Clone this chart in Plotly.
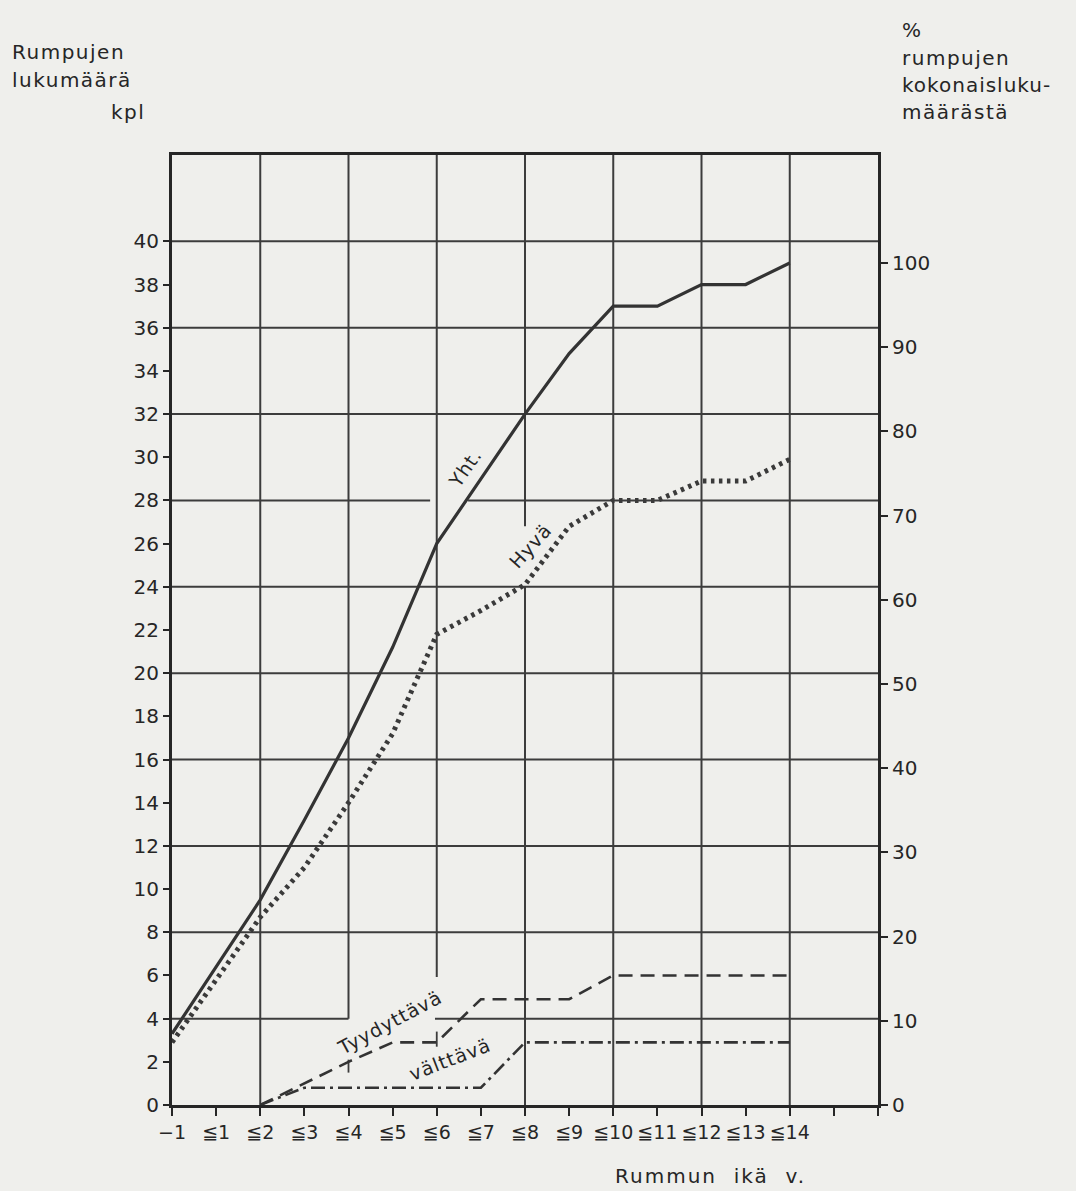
import plotly.graph_objects as go

# ---- data ----
x_pos = list(range(15))
x_labels = ["−1", "≦1", "≦2", "≦3", "≦4", "≦5", "≦6", "≦7", "≦8", "≦9",
            "≦10", "≦11", "≦12", "≦13", "≦14"]
yht = [3.3, 6.4, 9.5, 13.2, 17, 21.2, 26, 29, 32, 34.8, 37, 37, 38, 38, 39]
hyva = [2.9, 5.8, 8.7, 11, 14, 17.2, 21.8, 22.9, 24.1, 26.8, 28, 28, 28.9, 28.9, 29.9]
tyyd_x = list(range(2, 15))
tyyd = [0, 1, 2, 2.9, 2.9, 4.9, 4.9, 4.9, 6, 6, 6, 6, 6]
valt_x = list(range(2, 15))
valt = [0, 0.8, 0.8, 0.8, 0.8, 0.8, 2.9, 2.9, 2.9, 2.9, 2.9, 2.9, 2.9]
total_count = 39  # = 100 %
left_ticks = list(range(0, 41, 2))
right_ticks = list(range(0, 101, 10))

# ---- layout geometry ----
W, H = 1076, 1191
L, R, T, B = 172, 878, 155, 1105
XMAX, YMAX = 16, 44
INK = "#262626"
FONT = "DejaVu Sans"


def px(xp):
    return (xp - L) / (R - L)


def py(yp):
    return (B - yp) / (B - T)


fig = go.Figure()
fig.add_trace(go.Scatter(x=x_pos, y=yht, mode="lines",
                         line=dict(color="#333333", width=3.2), name="Yht."))
fig.add_trace(go.Scatter(x=x_pos, y=hyva, mode="lines",
                         line=dict(color="#3a3a3a", width=5, dash="3.5px,4.5px"), name="Hyvä"))
fig.add_trace(go.Scatter(x=tyyd_x, y=tyyd, mode="lines",
                         line=dict(color="#333333", width=2.6, dash="14px,8px"), name="Tyydyttävä"))
fig.add_trace(go.Scatter(x=valt_x, y=valt, mode="lines",
                         line=dict(color="#333333", width=2.6, dash="14px,5px,3px,5px"), name="välttävä"))
# invisible trace for right axis
fig.add_trace(go.Scatter(x=[0], y=[0], yaxis="y2", mode="markers",
                         marker=dict(opacity=0), showlegend=False, hoverinfo="skip"))

# ---- grid drawn as segments (with gaps like the original) ----
grid_col = "#3c3c3c"
shapes = []


def seg(x0, y0, x1, y1, w=2):
    shapes.append(dict(type="line", xref="x", yref="y", x0=x0, y0=y0, x1=x1, y1=y1,
                       line=dict(color=grid_col, width=w), layer="below"))


for gx in range(2, 16, 2):
    if gx == 4:
        seg(gx, 4, gx, YMAX)
    elif gx == 6:
        seg(gx, 5.93, gx, YMAX)
    elif gx == 8:
        seg(gx, 0, gx, 24)
        seg(gx, 26.8, gx, YMAX)
    else:
        seg(gx, 0, gx, YMAX)
for gy in range(4, 44, 4):
    if gy == 28:
        seg(0, gy, 5.85, gy)
        seg(6.71, gy, XMAX, gy)
    elif gy == 4:
        seg(0, gy, 4, gy)
        seg(5.96, gy, XMAX, gy)
    else:
        seg(0, gy, XMAX, gy)
# short remnants of grid crossing the dashed line
seg(4, 1.5, 4, 2.1, 1.8)
seg(6, 2.7, 6, 3.4, 1.8)

fig.update_layout(shapes=shapes)

# ---- annotations ----
ann = []


def spaced(t, sp):
    return '<span style="letter-spacing:%spx">%s</span>' % (sp, t)


def text(t, xp, yp, anchor="left", size=20, angle=0, sp=1.5):
    ann.append(dict(text=spaced(t, sp), xref="paper", yref="paper", x=px(xp), y=py(yp),
                    xanchor=anchor, yanchor="middle", showarrow=False, textangle=angle,
                    font=dict(family=FONT, size=size, color=INK)))


text("Rumpujen", 10, 52)
text("lukumäärä", 10, 80)
text("kpl", 147, 112, anchor="right")
text("%", 900, 30)
text("rumpujen", 900, 58)
text("kokonaisluku-", 900, 85, sp=1)
text("määrästä", 900, 112)
text("Rummun  ikä  v.", 710, 1176, anchor="center", sp=2)


# labels along the lines (data coordinates)
def lab(t, xd, yd, angle):
    ann.append(dict(text=spaced(t, 1), xref="x", yref="y", x=xd, y=yd, showarrow=False,
                    textangle=angle, font=dict(family=FONT, size=19, color=INK)))


lab("Yht.", 6.64, 29.5, -55)
lab("Hyvä", 8.11, 25.9, -48)
lab("Tyydyttävä", 4.94, 3.85, -28)
lab("välttävä", 6.3, 2.15, -21)

fig.update_layout(annotations=ann)

tick_font = dict(family=FONT, size=20, color=INK)
fig.update_layout(
    width=W, height=H,
    margin=dict(l=L, r=W - R, t=T, b=H - B, pad=0),
    paper_bgcolor="#efefec", plot_bgcolor="#efefec",
    showlegend=False,
    xaxis=dict(range=[0, XMAX], tickvals=list(range(0, 17)),
               ticktext=x_labels + ["", ""], ticks="outside", ticklen=8, tickwidth=2,
               tickangle=0, tickcolor=INK, showgrid=False, zeroline=False, showline=True,
               linewidth=3, linecolor=INK, mirror=True,
               tickfont=dict(family=FONT, size=19, color=INK)),
    yaxis=dict(range=[0, YMAX], tickvals=left_ticks, ticks="outside", ticklen=6,
               tickwidth=2, tickcolor=INK, showgrid=False, zeroline=False,
               showline=True, linewidth=3, linecolor=INK, mirror=True,
               tickfont=tick_font),
    yaxis2=dict(range=[0, YMAX / total_count * 100], tickvals=right_ticks,
                overlaying="y", side="right", ticks="outside", ticklen=9,
                tickwidth=2, tickcolor=INK, showgrid=False, zeroline=False,
                showline=False, tickfont=tick_font),
)

fig.write_html("out.html", config={"displayModeBar": False},
               post_script="document.body.style.margin='0';document.body.style.padding='0';")
